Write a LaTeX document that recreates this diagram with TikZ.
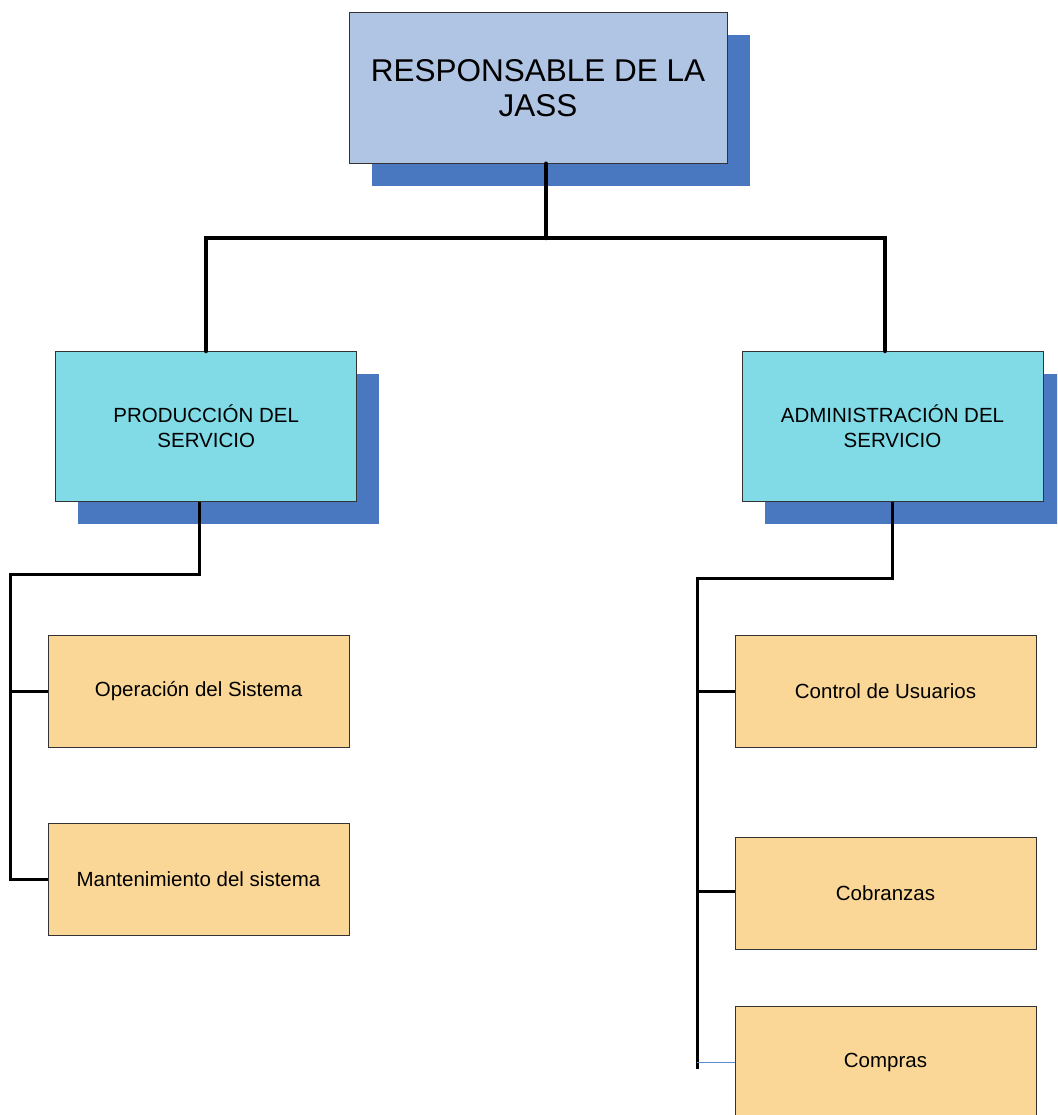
\documentclass[tikz,border=0pt]{standalone}
\usepackage{fontspec}
\setmainfont{Liberation Sans}
\usetikzlibrary{shadows}
\definecolor{topfill}{HTML}{B0C5E4}
\definecolor{shadowblue}{HTML}{4A78C0}
\definecolor{midfill}{HTML}{80DBE6}
\definecolor{leaffill}{HTML}{FAD796}
\definecolor{edge}{HTML}{333333}
\definecolor{thinblue}{HTML}{5B8BD0}
\tikzset{
  boxbase/.style={draw=edge, line width=1pt, inner sep=0pt, align=center, anchor=center},
  topbox/.style={boxbase, fill=topfill, minimum width=378pt, minimum height=151pt,
     font=\fontsize{31.5}{35}\selectfont,
     drop shadow={shadow xshift=22.5pt, shadow yshift=-22.5pt, opacity=1, fill=shadowblue}},
  midbox/.style={boxbase, fill=midfill, minimum width=301pt, minimum height=150pt,
     font=\fontsize{20.5}{25}\selectfont,
     drop shadow={shadow xshift=22.5pt, shadow yshift=-22.5pt, opacity=1, fill=shadowblue}},
  leafbox/.style={boxbase, fill=leaffill, minimum width=301pt, minimum height=112pt,
     font=\fontsize{20.5}{25}\selectfont},
  busline/.style={line width=4.5pt, black},
  subline/.style={line width=3pt, black},
}
\begin{document}
\begin{tikzpicture}[x=1pt,y=-1pt]
\clip (0,0) rectangle (1057,1115);
\fill[white] (0,0) rectangle (1057,1115);
% boxes
\node[topbox] (top) at (538,87.75) {RESPONSABLE DE LA\\JASS};
\node[midbox] (prod) at (206.2,426.5) {PRODUCCIÓN DEL\\SERVICIO};
\node[midbox] (adm) at (892.5,426.5) {ADMINISTRACIÓN DEL\\SERVICIO};
\node[leafbox] (oper) at (198.5,691) {Operación del Sistema};
\node[leafbox] (mant) at (198.5,879.5) {Mantenimiento del sistema};
\node[leafbox] (ctrl) at (885.5,691) {Control de Usuarios};
\node[leafbox] (cobr) at (885.5,893) {Cobranzas};
\node[leafbox] (comp) at (885.5,1062) {Compras};
% top connectors
\coordinate (bus) at (546,238);
\draw[busline, line cap=round] ([xshift=8pt]top.south) -- (bus);
\draw[busline, line cap=round, line join=miter] (prod.north) |- (bus) -| ([xshift=-7.5pt]adm.north);
% left connectors
\coordinate (lbus) at (10,574);
\draw[subline] ([xshift=-7pt]prod.south) |- (lbus) -- (lbus |- mant.west) -- (mant.west);
\draw[subline] (lbus |- oper.west) -- (oper.west);
% right connectors
\coordinate (rbus) at (697,578);
\coordinate (rend) at (697,1069);
\draw[subline] (adm.south) |- (rbus) -- (rend);
\draw[subline] (rbus |- ctrl.west) -- (ctrl.west);
\draw[subline] ([yshift=2pt]rbus |- cobr.west) -- ([yshift=2pt]cobr.west);
\draw[thinblue, line width=1pt] (rbus |- comp.west) -- (comp.west);
\end{tikzpicture}
\end{document}
